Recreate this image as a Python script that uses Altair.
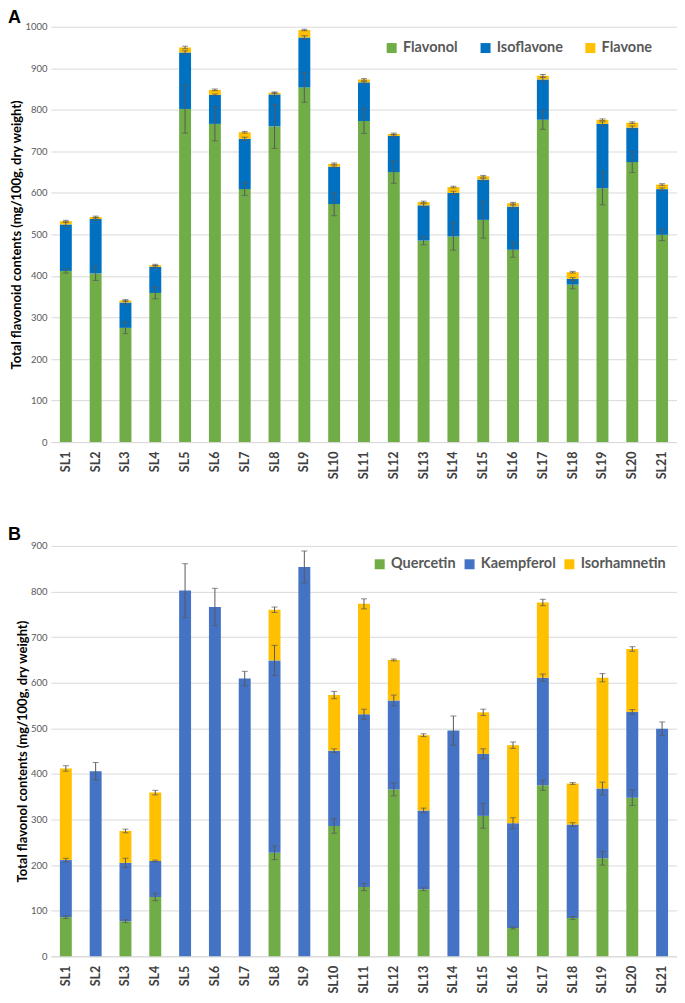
import altair as alt
import pandas as pd

samples = ["SL1", "SL2", "SL3", "SL4", "SL5", "SL6", "SL7", "SL8", "SL9", "SL10", "SL11",
           "SL12", "SL13", "SL14", "SL15", "SL16", "SL17", "SL18", "SL19", "SL20", "SL21"]

# Panel A: flavonoid classes
flavonol = [412, 406, 275, 359, 802, 766, 609, 760, 854, 573, 773, 650, 485, 495, 535, 463, 776, 379, 611, 674, 499]
isoflavone = [112, 131, 61, 63, 136, 70, 121, 77, 120, 90, 93, 87, 85, 105, 97, 104, 97, 14, 155, 83, 110]
flavone = [8, 5, 5, 4, 12, 12, 16, 4, 18, 7, 7, 5, 8, 14, 8, 8, 9, 16, 10, 12, 11]
flavonol_err = [5, 17, 14, 14, 58, 41, 15, 53, 36, 28, 30, 27, 10, 33, 44, 18, 23, 10, 40, 25, 14]
isoflavone_err = [5, 3, 4, 3, 4, 2, 4, 4, 4, 2, 2, 3, 4, 4, 3, 4, 5, 3, 5, 4, 3]
flavone_err = [2, 2, 2, 2, 3, 2, 2, 2, 2, 2, 2, 2, 2, 2, 2, 2, 3, 2, 2, 2, 2]

# Panel B: flavonols
quercetin = [86, 0, 77, 130, 0, 0, 0, 227, 0, 286, 152, 366, 147, 0, 308, 62, 375, 84, 215, 348, 0]
kaempferol = [125, 406, 128, 79, 802, 766, 609, 422, 854, 165, 379, 195, 173, 495, 136, 230, 236, 205, 153, 188, 499]
isorhamnetin = [201, 0, 70, 150, 0, 0, 0, 111, 0, 122, 242, 89, 165, 0, 91, 171, 165, 90, 243, 138, 0]
quercetin_err = [3, 0, 3, 8, 0, 0, 0, 15, 0, 16, 8, 14, 3, 0, 27, 2, 11, 3, 15, 17, 0]
kaempferol_err = [4, 19, 10, 2, 59, 41, 16, 33, 35, 4, 11, 12, 5, 32, 11, 12, 8, 4, 14, 5, 15]
isorhamnetin_err = [6, 0, 4, 5, 0, 0, 0, 6, 0, 8, 11, 2, 3, 0, 7, 7, 7, 2, 9, 5, 0]

names_a = ["Flavonol", "Isoflavone", "Flavone"]
colors_a = ["#70AD47", "#0070C0", "#FFC000"]
names_b = ["Quercetin", "Kaempferol", "Isorhamnetin"]
colors_b = ["#70AD47", "#4472C4", "#FFC000"]

FONT = "Lato"


def build_tables(series, errs, names):
    rows, erows = [], []
    for i, s in enumerate(samples):
        cum = 0
        for k, (vals, ers) in enumerate(zip(series, errs)):
            v = vals[i]
            cum += v
            rows.append({"sample": s, "series": names[k], "order": k, "value": v})
            if v > 0:
                erows.append({"sample": s, "lo": cum - ers[i], "hi": cum + ers[i]})
    return pd.DataFrame(rows), pd.DataFrame(erows)


def panel(series, errs, names, colors, letter, letter_y, ytitle, ymax, w, h, lx, ly, colpad):
    df, edf = build_tables(series, errs, names)
    x = alt.X("sample:N", sort=samples, title=None,
              scale=alt.Scale(paddingInner=0.6, paddingOuter=0.3),
              axis=alt.Axis(labelAngle=-90, labelFontSize=12.5, labelFontWeight="bold",
                            labelColor="#404040", labelFont=FONT, labelPadding=9,
                            ticks=False, domainColor="#D9D9D9", labelBaseline="middle",
                            labelAlign="right"))
    yscale = alt.Scale(domain=[0, ymax], nice=False)
    yaxis = alt.Axis(values=list(range(0, ymax + 1, 100)), format="d", labelFontSize=9.5,
                     labelColor="#595959",
                     labelFont=FONT, ticks=False, domain=False, gridColor="#D9D9D9",
                     title=ytitle, titleFontSize=13, titleFont=FONT, titleFontWeight="bold",
                     titleColor="#000000", titlePadding=1, labelPadding=4)
    bars = alt.Chart(df).mark_bar().encode(
        x=x,
        y=alt.Y("value:Q", scale=yscale, axis=yaxis),
        color=alt.Color("series:N", scale=alt.Scale(domain=names, range=colors),
                        legend=alt.Legend(title=None, orient="none", direction="horizontal",
                                          legendX=lx, legendY=ly, symbolType="square",
                                          symbolSize=100, symbolStrokeWidth=0,
                                          labelFontSize=14.5, labelFontWeight="bold",
                                          labelColor="#595959", labelFont=FONT,
                                          columnPadding=colpad, labelOffset=4)),
        order=alt.Order("order:Q", sort="ascending"),
    )
    rule = alt.Chart(edf).mark_rule(color="#595959", strokeWidth=1).encode(
        x=alt.X("sample:N", sort=samples), y="lo:Q", y2="hi:Q")
    cap_lo = alt.Chart(edf).mark_tick(color="#595959", thickness=1, size=6).encode(
        x=alt.X("sample:N", sort=samples), y="lo:Q")
    cap_hi = alt.Chart(edf).mark_tick(color="#595959", thickness=1, size=6).encode(
        x=alt.X("sample:N", sort=samples), y="hi:Q")
    tag = alt.Chart(pd.DataFrame({"t": [letter]})).mark_text(
        font="Liberation Sans", fontSize=18, fontWeight="bold", color="#000000",
        align="left", baseline="alphabetic"
    ).encode(text="t:N", x=alt.value(-43), y=alt.value(letter_y))
    return alt.layer(bars, rule, cap_lo, cap_hi, tag).properties(width=w, height=h)


chart_a = panel([flavonol, isoflavone, flavone], [flavonol_err, isoflavone_err, flavone_err],
                names_a, colors_a, "A", -4, "Total flavonoid contents (mg/100g, dry weight)",
                1000, 627, 416, 334, 14, 20)
chart_b = panel([quercetin, kaempferol, isorhamnetin], [quercetin_err, kaempferol_err, isorhamnetin_err],
                names_b, colors_b, "B", -6, "Total flavonol contents (mg/100g, dry weight)",
                900, 627, 411, 322, 11, 6)

chart = alt.concat(chart_a, chart_b, columns=1, spacing=47).resolve_scale(
    color="independent", x="independent", y="independent"
).resolve_legend(color="independent").properties(
    padding=0
).configure_view(stroke=None)

chart.save("out.html", embed_options={"renderer": "svg", "actions": False})
